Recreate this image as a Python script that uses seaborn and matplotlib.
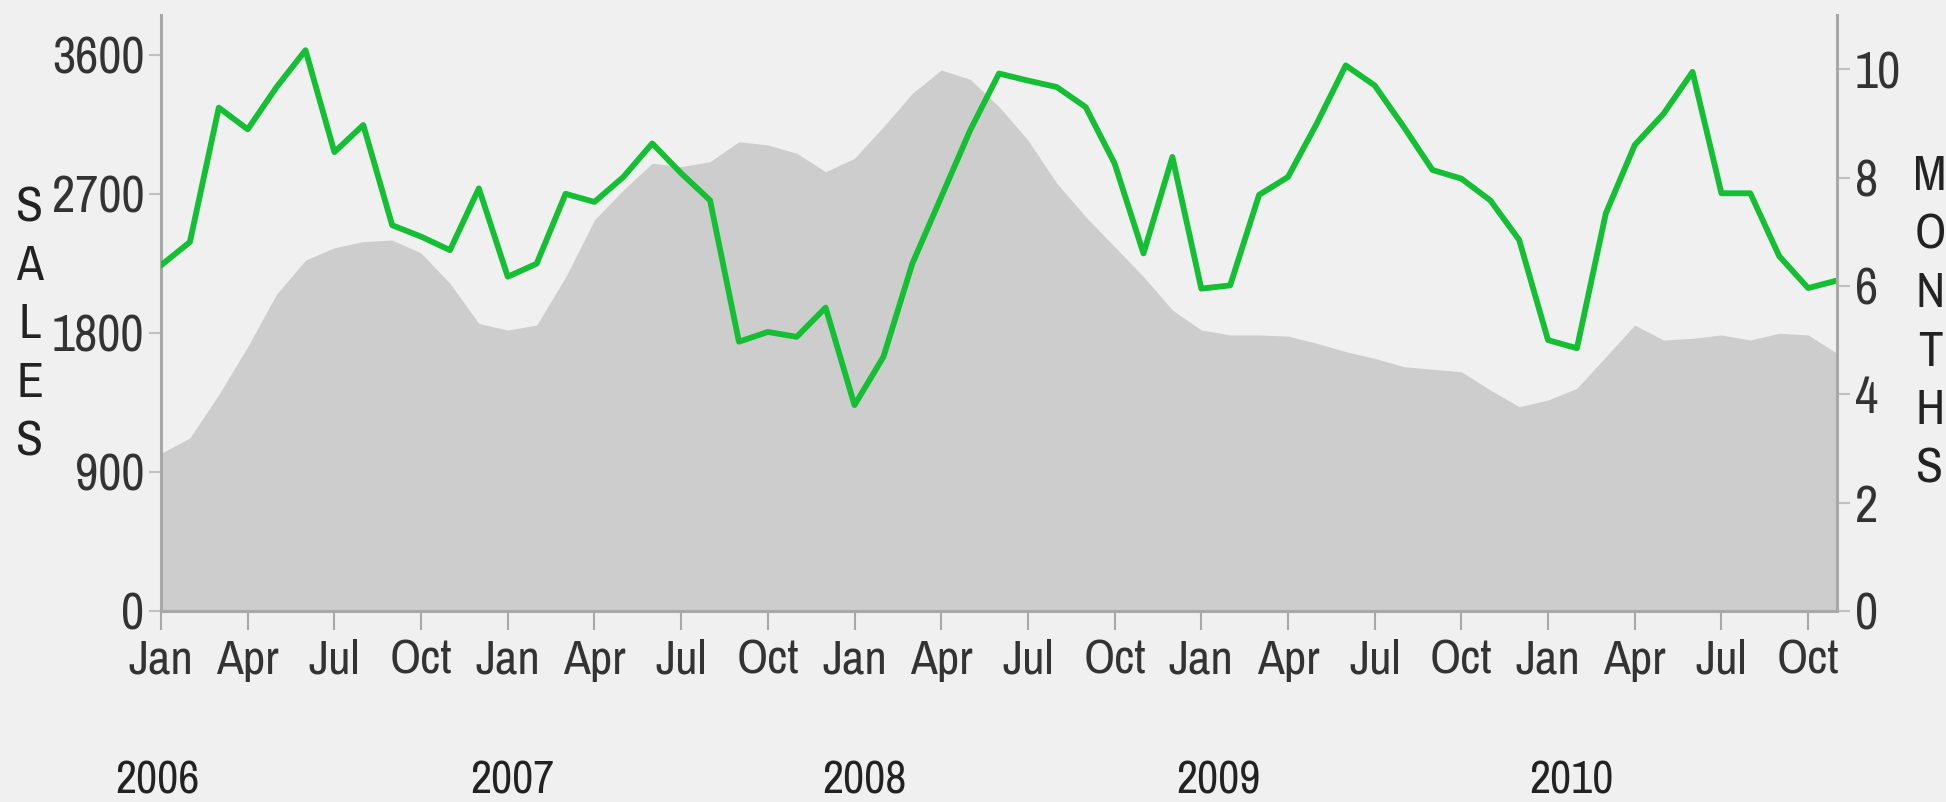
import numpy as np
import pandas as pd
import seaborn as sns
import matplotlib.pyplot as plt
import matplotlib.font_manager as fm

# monthly data, Jan 2006 .. Nov 2010
sales = [1020, 1120, 1400, 1710, 2050, 2270, 2350, 2390, 2400, 2316, 2120, 1860,
         1818, 1850, 2160, 2530, 2724, 2897, 2875, 2907, 3036, 3015, 2961, 2842,
         2929, 3133, 3349, 3500, 3440, 3263, 3047, 2767, 2551, 2357, 2163, 1947,
         1818, 1786, 1786, 1779, 1732, 1678, 1635, 1581, 1564, 1548, 1430, 1322,
         1365, 1441, 1645, 1850, 1753, 1764, 1786, 1753, 1797, 1786, 1667]
months = [6.38, 6.81, 9.29, 8.89, 9.67, 10.35, 8.47, 8.97, 7.12, 6.91, 6.66, 7.80,
          6.17, 6.41, 7.70, 7.55, 8.01, 8.63, 8.08, 7.58, 4.97, 5.15, 5.06, 5.60,
          3.80, 4.69, 6.41, 7.64, 8.87, 9.92, 9.79, 9.67, 9.30, 8.26, 6.60, 8.38,
          5.95, 6.01, 7.68, 8.01, 9.00, 10.07, 9.70, 8.94, 8.14, 7.98, 7.58, 6.85,
          5.00, 4.85, 7.34, 8.60, 9.18, 9.95, 7.71, 7.71, 6.55, 5.96, 6.10]
month_names = ['Jan', 'Apr', 'Jul', 'Oct']
years = ['2006', '2007', '2008', '2009', '2010']
sales_ticks = [0, 900, 1800, 2700, 3600]
months_ticks = [0, 2, 4, 6, 8, 10]

df = pd.DataFrame({'t': np.arange(len(sales)), 'sales': sales, 'months': months})

BG = '#f0f0f0'
GREY = '#cdcdcd'
GREEN = '#14bf34'
AXIS = '#a8a8a8'
TXT = '#333333'
W, H = 1946, 802


def narrow_font():
    """Look for a narrow / condensed sans face, the reference text is condensed."""
    best, best_rank = None, 99
    for f in fm.fontManager.ttflist:
        n = f.name
        if any(k in n for k in ('Mono', 'Serif', 'CJK')) or f.style != 'normal':
            continue
        if f.weight not in (400, 'normal', 'regular', 'book'):
            continue
        st = str(f.stretch)
        if 'Narrow' in n:
            rank = 0
        elif st == 'condensed' or ('Condensed' in n and 'Extra' not in n
                                   and 'Semi' not in n):
            rank = 1
        elif st == 'semi-condensed' or 'SemiCondensed' in n:
            rank = 2
        else:
            continue
        if rank < best_rank:
            best, best_rank = f.fname, rank
    return best


sns.set_theme(style='white')
plt.rcParams['font.family'] = ['Liberation Sans', 'DejaVu Sans']

fname = narrow_font()
if fname:
    prop = fm.FontProperties(fname=fname)
    widen = 1.08
else:
    prop = fm.FontProperties(family=['Liberation Sans', 'DejaVu Sans'])
    widen = 1.12

fig = plt.figure(figsize=(W / 100, H / 100), dpi=100, facecolor=BG)
renderer = fig.canvas.get_renderer()


def fit_size(s, target_px):
    t = fig.text(0, 0, s, fontproperties=prop, size=100)
    w = t.get_window_extent(renderer).width
    t.remove()
    return 100 * target_px * widen / w


tick_size = fit_size('3600', 86)
month_size = fit_size('Jan', 60)
year_size = fit_size('2006', 78)
letter_size = fit_size('S', 25)

ax = fig.add_axes([161 / W, 1 - 611 / H, (1837 - 161) / W, (611 - 15) / H])
ax.set_facecolor(BG)

ax.fill_between(df['t'], 0, df['sales'], color=GREY, lw=0)
ax.set_xlim(0, len(sales) - 1)
ax.set_ylim(0, 3856)

ax2 = ax.twinx()
sns.lineplot(data=df, x='t', y='months', ax=ax2, color=GREEN, lw=4.2)
ax2.set_ylim(0, 11.0)

# ticks
xt = list(range(0, len(sales), 3))
ax.set_xticks(xt)
ax.set_xticklabels([month_names[(i // 3) % 4] for i in xt])
ax.set_yticks(sales_ticks)
ax2.set_yticks(months_ticks)
for a in (ax, ax2):
    a.set_xlabel('')
    a.set_ylabel('')

ax.tick_params(axis='x', length=14, width=1.5, color=AXIS, labelcolor=TXT,
               pad=6, bottom=True)
ax.tick_params(axis='y', length=9, width=1.5, color='#c0c0c0', labelcolor=TXT,
               pad=3, left=True)
ax2.tick_params(axis='y', length=9, width=1.5, color='#c0c0c0', labelcolor=TXT,
                pad=4, right=True)
for lbl in ax.get_xticklabels():
    lbl.set_fontproperties(prop)
    lbl.set_fontsize(month_size)
for lbl in ax.get_yticklabels() + ax2.get_yticklabels():
    lbl.set_fontproperties(prop)
    lbl.set_fontsize(tick_size)

for a in (ax, ax2):
    for s in a.spines.values():
        s.set_visible(False)
for s in ('left', 'bottom'):
    ax.spines[s].set_visible(True)
    ax.spines[s].set_color(AXIS)
    ax.spines[s].set_linewidth(2.2)
ax2.spines['right'].set_visible(True)
ax2.spines['right'].set_color(AXIS)
ax2.spines['right'].set_linewidth(2.2)

# year labels under the month labels
year_x = [-0.14, 12.15, 24.33, 36.6, 48.8]
for yx, yr in zip(year_x, years):
    ax.text(yx, -(776 - 611) / 596, yr, transform=ax.get_xaxis_transform(),
            ha='center', va='center_baseline', fontproperties=prop,
            fontsize=year_size, color='#222222')

# stacked axis titles, one letter per line
for word, xc, y0 in (('SALES', 30, 203), ('MONTHS', 1930, 172)):
    for i, ch in enumerate(word):
        fig.text(xc / W, 1 - (y0 + 58.5 * i) / H, ch, ha='center',
                 va='center_baseline', fontproperties=prop,
                 fontsize=letter_size, color='#222222')

fig.savefig('out.png', dpi=100, facecolor=BG)
